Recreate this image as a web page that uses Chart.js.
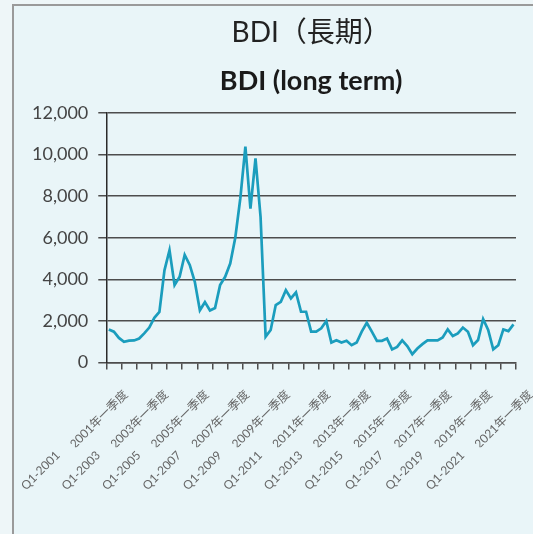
<!DOCTYPE html>
<html>
<head>
<meta charset="utf-8">
<script src="https://cdn.jsdelivr.net/npm/chart.js@4.4.0/dist/chart.umd.min.js"></script>
<style>
  html, body { margin: 0; padding: 0; background: #eef6f8; overflow: hidden; }
  #frame {
    position: absolute; left: 12px; top: 4px; width: 519px; height: 528px;
    background: #e9f5f8; border-top: 2px solid #9a9a9a; border-left: 2px solid #9a9a9a;
  }
  #wrap { position: absolute; left: 0; top: 0; width: 533px; height: 534px; }
</style>
</head>
<body>
<div id="frame"></div>
<div id="wrap"><canvas id="bdiChart"></canvas></div>
<script>
// Quarterly BDI, Q1-2001 .. Q1-2021
var years = [2001, 2002, 2003, 2004, 2005, 2006, 2007, 2008, 2009, 2010,
             2011, 2012, 2013, 2014, 2015, 2016, 2017, 2018, 2019, 2020, 2021];
var bdiValues = [
    1590, 1480, 1180, 990, 1050, 1060, 1150, 1400,      // 2001-2002
    1680, 2150, 2430, 4430, 5400, 3720, 4120, 5170,     // 2003-2004
    4690, 3880, 2510, 2900, 2500, 2620, 3720, 4120,     // 2005-2006
    4760, 6000, 7900, 10380, 7400, 9820, 7000, 1240,    // 2007-2008
    1560, 2760, 2920, 3480, 3080, 3370, 2440, 2440,     // 2009-2010
    1480, 1480, 1640, 1990, 960, 1070, 960, 1040,       // 2011-2012
    830, 960, 1480, 1910, 1480, 1040, 1040, 1150,       // 2013-2014
    630, 750, 1060, 790, 400, 670, 880, 1060,           // 2015-2016
    1060, 1060, 1200, 1590, 1270, 1400, 1680, 1480,     // 2017-2018
    830, 1080, 2090, 1560, 630, 830, 1590, 1510,        // 2019-2020
    1830                                                // 2021 Q1
];
var cnTickLabels = ['2001年一季度', '2003年一季度', '2005年一季度', '2007年一季度', '2009年一季度', '2011年一季度',
                    '2013年一季度', '2015年一季度', '2017年一季度', '2019年一季度', '2021年一季度'];
var enTickLabels = ['Q1-2001', 'Q1-2003', 'Q1-2005', 'Q1-2007', 'Q1-2009', 'Q1-2011',
                    'Q1-2013', 'Q1-2015', 'Q1-2017', 'Q1-2019', 'Q1-2021'];
var yTicks = [0, 2000, 4000, 6000, 8000, 10000, 12000];

var quarters = [];
years.forEach(function(y) {
    for (var q = 1; q <= 4; q++) {
        if (quarters.length < bdiValues.length) quarters.push('Q' + q + '-' + y);
    }
});

var tickFont = { family: "Lato, 'Noto Sans CJK TC', sans-serif", size: 12 };

function noSidePadding(axis) {
    // rotated labels may hang past the plot edges
    axis.paddingLeft = 0;
    axis.paddingRight = 0;
}

let ctx = document.getElementById('bdiChart').getContext('2d');
let bdiChart = new Chart(ctx, {
    type: 'line',
    data: {
        labels: quarters,
        datasets: [{
            label: 'BDI',
            data: bdiValues,
            xAxisID: 'x',
            borderColor: '#1b9dbd',
            borderWidth: 2.7,
            pointRadius: 0,
            tension: 0,
            fill: false
        }]
    },
    options: {
        responsive: true,
        maintainAspectRatio: false,
        animation: false,
        layout: {
            padding: { left: 22, right: 17, top: 0, bottom: 40 }
        },
        plugins: {
            legend: { display: false },
            tooltip: { enabled: false },
            title: {
                display: true,
                text: 'BDI（長期）',
                fullSize: false,
                color: '#222',
                font: { family: "Lato, 'Noto Sans CJK TC', sans-serif", size: 28, weight: 'normal' },
                padding: { top: 16, bottom: 0 }
            },
            subtitle: {
                display: true,
                text: 'BDI (long term)',
                fullSize: false,
                color: '#1a1a1a',
                font: { family: "Lato, sans-serif", size: 27, weight: 'bold' },
                padding: { top: 15, bottom: 16 }
            }
        },
        scales: {
            x: {
                offset: true,
                weight: 0,
                afterFit: function(axis) {
                    noSidePadding(axis);
                    // let the English labels tuck in under the Chinese ones
                    axis.height -= 22;
                },
                grid: {
                    offset: true,
                    drawOnChartArea: false,
                    drawTicks: true,
                    tickLength: 7,
                    lineWidth: 1.5,
                    color: function(c) {
                        if (c.index === undefined || c.index % 3 === 0) return '#4d4d4d';
                        return 'rgba(0,0,0,0)';
                    }
                },
                border: { display: true, color: '#4d4d4d', width: 1.5 },
                ticks: {
                    autoSkip: false,
                    maxRotation: 45,
                    minRotation: 45,
                    padding: 18,
                    labelOffset: 17,
                    color: '#666',
                    font: tickFont,
                    callback: function(value, index) {
                        return index % 8 === 0 ? cnTickLabels[index / 8] : '';
                    }
                }
            },
            x2: {
                type: 'category',
                position: 'bottom',
                offset: true,
                weight: 1,
                afterFit: noSidePadding,
                grid: { display: false, drawTicks: false },
                border: { display: false },
                ticks: {
                    autoSkip: false,
                    maxRotation: 45,
                    minRotation: 45,
                    padding: 1,
                    labelOffset: -51,
                    color: '#666',
                    font: tickFont,
                    callback: function(value, index) {
                        return index % 8 === 0 ? enTickLabels[index / 8] : '';
                    }
                }
            },
            y: {
                min: 0,
                max: 12000,
                afterBuildTicks: function(axis) {
                    axis.ticks = yTicks.map(function(v) { return { value: v }; });
                },
                grid: {
                    color: '#4d4d4d',
                    lineWidth: 1.5,
                    tickLength: 8
                },
                border: { display: true, color: '#2a2a2a', width: 1.5 },
                ticks: {
                    padding: 10,
                    color: '#444',
                    font: { family: "Lato, sans-serif", size: 18 },
                    callback: function(value) {
                        return value.toLocaleString('en-US');
                    }
                }
            }
        }
    }
});
</script>
</body>
</html>
